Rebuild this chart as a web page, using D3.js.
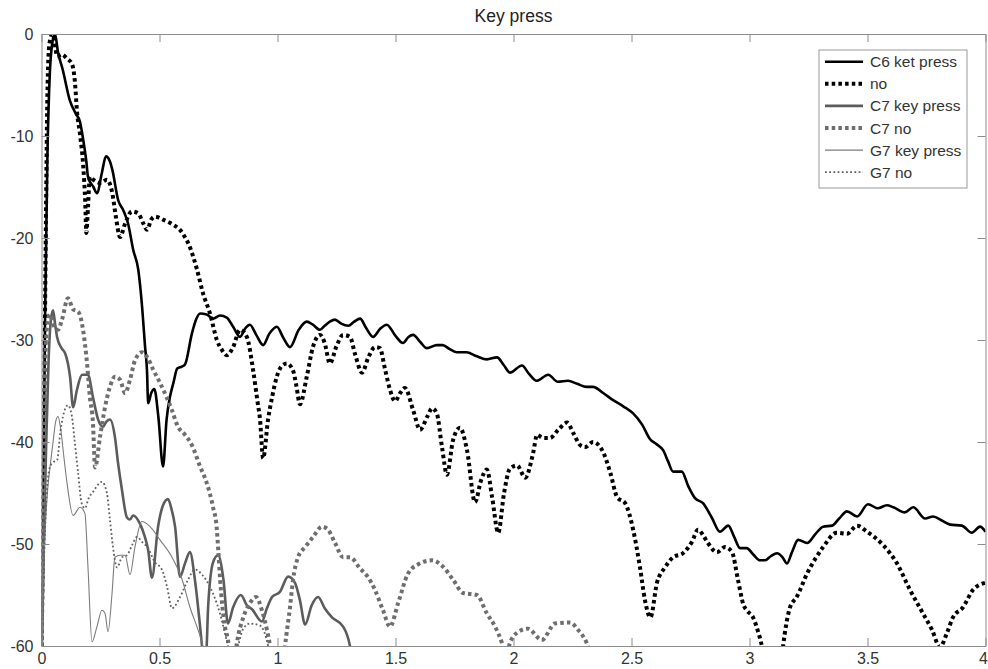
<!DOCTYPE html>
<html>
<head>
<meta charset="utf-8">
<script src="https://cdn.jsdelivr.net/npm/d3@7/dist/d3.min.js"></script>
<style>
  body { margin: 0; background: #fff; }
  svg { font-family: "Liberation Sans", Arial, Helvetica, sans-serif; }
</style>
</head>
<body>
<svg id="chart" width="988" height="669"></svg>
<script>
// ---- data ----
const title = "Key press";
const xTicks = [0, 0.5, 1, 1.5, 2, 2.5, 3, 3.5, 4];
const xTickLabels = ["0", "0.5", "1", "1.5", "2", "2.5", "3", "3.5", "4"];
const yTicks = [-60, -50, -40, -30, -20, -10, 0];
const yTickLabels = ["-60", "-50", "-40", "-30", "-20", "-10", "0"];
const seriesNames = ["C6 ket press", "no", "C7 key press", "C7 no", "G7 key press", "G7 no"];

const c6Press = [[0,-62],[0.008,-45],[0.015,-28],[0.025,-12],[0.035,-4],[0.045,-1],[0.057,0],[0.07,-1.8],[0.09,-3.5],[0.12,-6.5],[0.145,-7.8],[0.163,-8.6],[0.177,-10.4],[0.19,-12.5],[0.197,-14],[0.22,-15],[0.235,-15.6],[0.256,-13.6],[0.273,-12],[0.29,-12.5],[0.3,-13.3],[0.325,-16.3],[0.347,-17.3],[0.367,-18.6],[0.389,-21.2],[0.41,-23.1],[0.425,-26.4],[0.439,-30.7],[0.447,-33],[0.452,-36.2],[0.465,-35.2],[0.478,-34.8],[0.495,-37.5],[0.515,-42.4],[0.53,-37.8],[0.545,-35.5],[0.559,-34.2],[0.575,-32.8],[0.595,-32.6],[0.608,-32.4],[0.637,-29.4],[0.655,-28],[0.672,-27.4],[0.7,-27.5],[0.727,-27.9],[0.756,-27.6],[0.785,-27.8],[0.812,-28.7],[0.841,-29.7],[0.865,-28.8],[0.883,-28.5],[0.91,-29.5],[0.939,-30.5],[0.965,-29.4],[0.997,-28.7],[1.025,-29.8],[1.053,-30.7],[1.09,-29],[1.124,-28.2],[1.15,-28.5],[1.18,-29],[1.2,-28.6],[1.222,-28.2],[1.243,-28],[1.27,-28.4],[1.3,-28.6],[1.325,-28.2],[1.35,-27.9],[1.375,-28.8],[1.405,-29.7],[1.435,-28.9],[1.463,-28.5],[1.5,-29.6],[1.532,-30.3],[1.555,-29.7],[1.575,-29.5],[1.605,-30.2],[1.633,-30.8],[1.675,-30.5],[1.7,-30.5],[1.73,-30.9],[1.76,-31.2],[1.8,-31.2],[1.845,-31.6],[1.887,-31.9],[1.93,-31.7],[1.96,-32.5],[1.985,-33.2],[2.036,-32.5],[2.065,-33.3],[2.098,-34],[2.147,-33.4],[2.188,-34.1],[2.231,-34],[2.27,-34.3],[2.31,-34.6],[2.337,-34.6],[2.38,-35.2],[2.422,-35.9],[2.465,-36.5],[2.507,-37.2],[2.545,-38.3],[2.578,-39.7],[2.605,-40.2],[2.634,-40.8],[2.655,-41.9],[2.676,-42.9],[2.713,-42.9],[2.74,-44.3],[2.769,-45.5],[2.803,-46],[2.84,-47.4],[2.875,-48.8],[2.91,-48.2],[2.935,-49.3],[2.96,-50.4],[2.988,-50.4],[3.015,-51],[3.044,-51.6],[3.066,-51.6],[3.09,-51.2],[3.117,-50.9],[3.14,-51.3],[3.159,-51.9],[3.18,-50.8],[3.206,-49.6],[3.244,-49.9],[3.28,-49],[3.312,-48.3],[3.35,-48.2],[3.38,-47.5],[3.413,-46.8],[3.456,-47.3],[3.502,-46.1],[3.544,-46.5],[3.582,-46.2],[3.61,-46.4],[3.658,-46.9],[3.694,-46.4],[3.744,-47.5],[3.778,-47.3],[3.815,-47.7],[3.85,-48.1],[3.9,-48.2],[3.942,-48.9],[3.977,-48.3],[4,-48.8]];

const c6No = [[0,-62],[0.01,-40],[0.018,-20],[0.026,-4.8],[0.034,-0.9],[0.047,0],[0.06,-1.5],[0.066,-2.2],[0.086,-2],[0.108,-2.4],[0.13,-3],[0.142,-4.8],[0.15,-7.5],[0.163,-9.8],[0.177,-13],[0.185,-16.3],[0.19,-19.5],[0.197,-17],[0.205,-14],[0.22,-14.3],[0.248,-14.6],[0.277,-14.3],[0.3,-15.6],[0.315,-17.9],[0.333,-19.9],[0.354,-18.6],[0.383,-17.4],[0.41,-17.6],[0.432,-18.6],[0.447,-19.2],[0.465,-18.2],[0.481,-17.9],[0.515,-18.2],[0.558,-18.7],[0.587,-19.2],[0.61,-20],[0.629,-20.9],[0.645,-22],[0.659,-23.1],[0.684,-25.4],[0.714,-27.4],[0.743,-30],[0.765,-31],[0.785,-31.5],[0.812,-30.7],[0.841,-29],[0.87,-29.7],[0.897,-33],[0.915,-36],[0.926,-37.8],[0.939,-41.6],[0.96,-37.8],[0.978,-35.5],[0.997,-33.6],[1.02,-32.5],[1.04,-32.3],[1.066,-33],[1.08,-34.5],[1.095,-36.3],[1.124,-33.6],[1.15,-30.7],[1.18,-29.5],[1.2,-30.3],[1.222,-32.3],[1.25,-30.6],[1.278,-29.5],[1.307,-29.7],[1.33,-31.5],[1.358,-33.2],[1.385,-31.7],[1.413,-30.7],[1.434,-30.8],[1.455,-32.8],[1.477,-34.9],[1.498,-36],[1.52,-35.2],[1.54,-34.7],[1.575,-36.9],[1.604,-38.8],[1.635,-37.5],[1.655,-36.7],[1.675,-37.2],[1.697,-40.5],[1.718,-43.2],[1.744,-39.8],[1.773,-38.6],[1.803,-40.8],[1.837,-45.9],[1.862,-43.8],[1.887,-42.7],[1.91,-45.5],[1.935,-48.9],[1.96,-45],[1.985,-42.6],[2.015,-42.3],[2.05,-43.5],[2.083,-41.1],[2.1,-39.3],[2.125,-39.6],[2.155,-39.6],[2.19,-38.8],[2.227,-38.1],[2.255,-39.2],[2.282,-40.3],[2.303,-40.5],[2.337,-40],[2.38,-41],[2.41,-43],[2.439,-45.4],[2.473,-46],[2.507,-48.6],[2.536,-52.3],[2.557,-55.5],[2.58,-57.2],[2.608,-53.8],[2.642,-52.3],[2.676,-51.3],[2.718,-50.9],[2.756,-49.8],[2.782,-48.6],[2.805,-49.2],[2.824,-49.9],[2.862,-50.8],[2.896,-50.3],[2.926,-50.8],[2.951,-53.5],[2.975,-56],[2.988,-56.5],[3.015,-57.2],[3.035,-58.5],[3.053,-60.1],[3.075,-64],[3.1,-67],[3.125,-64],[3.142,-60.1],[3.172,-56.2],[3.2,-55.2],[3.244,-52.9],[3.28,-51.4],[3.312,-50.3],[3.37,-48.9],[3.413,-49],[3.456,-48.2],[3.498,-48.8],[3.566,-50.1],[3.625,-51.9],[3.68,-54.5],[3.735,-56.8],[3.773,-58.4],[3.807,-60.1],[3.837,-58.7],[3.862,-57.2],[3.905,-56.2],[3.947,-54.5],[4,-53.8]];

const c7Press = [[0,-62],[0.01,-50],[0.02,-40],[0.03,-32],[0.04,-28],[0.049,-27.1],[0.058,-28.5],[0.066,-29.7],[0.085,-30.8],[0.1,-31.3],[0.112,-32.3],[0.121,-33.6],[0.134,-36.6],[0.15,-34.9],[0.172,-33.4],[0.197,-33.4],[0.218,-35.6],[0.24,-37.8],[0.261,-38.5],[0.275,-38],[0.29,-37.8],[0.311,-39.5],[0.324,-42],[0.341,-44.7],[0.362,-47.4],[0.375,-47.6],[0.388,-47.2],[0.417,-48],[0.438,-49.3],[0.452,-50.6],[0.468,-53.3],[0.494,-48.3],[0.515,-46.2],[0.536,-45.6],[0.55,-46.5],[0.566,-48.3],[0.587,-53.2],[0.608,-51.9],[0.629,-50.8],[0.65,-53.5],[0.672,-58.1],[0.68,-60],[0.69,-63],[0.7,-60],[0.706,-56.2],[0.727,-51.8],[0.748,-51.1],[0.771,-53.5],[0.79,-57.8],[0.812,-56.2],[0.845,-55],[0.87,-56],[0.892,-56.4],[0.934,-57.6],[0.955,-56.3],[0.977,-55.2],[1.01,-54.7],[1.045,-53.2],[1.074,-53.8],[1.095,-55.5],[1.117,-57.9],[1.145,-56],[1.172,-55.2],[1.2,-56.3],[1.231,-57.2],[1.278,-58.1],[1.307,-60],[1.32,-62]];

const c7No = [[0,-62],[0.005,-50],[0.01,-40],[0.015,-33],[0.022,-29],[0.035,-27.5],[0.05,-28.5],[0.07,-29],[0.087,-28],[0.112,-25.9],[0.134,-27],[0.155,-27.2],[0.176,-29],[0.193,-32.3],[0.205,-35.6],[0.218,-38.1],[0.227,-42.5],[0.248,-39.5],[0.269,-36.6],[0.29,-34.6],[0.311,-33.6],[0.333,-33.9],[0.354,-35.2],[0.375,-33.9],[0.396,-32],[0.426,-31.2],[0.451,-31.8],[0.473,-32.9],[0.502,-34.2],[0.53,-35.6],[0.553,-36.9],[0.578,-38.5],[0.605,-39.2],[0.637,-40.3],[0.672,-42.4],[0.7,-44],[0.727,-46.4],[0.742,-48.3],[0.749,-50.6],[0.757,-53.5],[0.775,-57.8],[0.79,-59.4],[0.81,-63],[0.828,-59.7],[0.855,-57.2],[0.883,-55.8],[0.909,-55.2],[0.934,-56.5],[0.955,-58.4],[0.968,-60],[0.99,-66],[1.015,-64],[1.032,-60],[1.053,-56.2],[1.066,-53.5],[1.087,-51.3],[1.117,-50.3],[1.151,-49.3],[1.188,-48.3],[1.214,-48.6],[1.244,-49.9],[1.278,-51.3],[1.307,-51.3],[1.35,-52.4],[1.385,-53.3],[1.413,-54.5],[1.447,-56.5],[1.477,-58.1],[1.511,-55.8],[1.553,-52.9],[1.595,-52],[1.655,-51.6],[1.7,-52.2],[1.744,-53.5],[1.786,-54.8],[1.845,-55],[1.887,-56.8],[1.922,-58.1],[1.951,-59.7],[1.968,-61],[1.985,-59.7],[2.015,-58.7],[2.061,-58.3],[2.12,-59.4],[2.176,-57.8],[2.24,-57.7],[2.273,-58.4],[2.31,-59.7],[2.33,-61]];

const g7Press = [[0,-62],[0.01,-52],[0.025,-45],[0.036,-42.5],[0.049,-40],[0.06,-38],[0.07,-37.5],[0.08,-38.5],[0.095,-41.5],[0.108,-44],[0.134,-47.2],[0.163,-46.4],[0.184,-47],[0.197,-52.3],[0.214,-59.6],[0.235,-58.1],[0.256,-56.5],[0.269,-56.8],[0.282,-58.6],[0.299,-54.8],[0.311,-51.3],[0.333,-51.1],[0.354,-51.1],[0.375,-53],[0.396,-50.3],[0.425,-47.8],[0.46,-48.3],[0.502,-49.6],[0.553,-51.3],[0.596,-53.5],[0.629,-56.2],[0.663,-58.4],[0.684,-60],[0.7,-62]];

const g7No = [[0,-62],[0.01,-52],[0.02,-46],[0.035,-42.5],[0.049,-42],[0.066,-41.8],[0.08,-39],[0.091,-37.5],[0.112,-36.4],[0.129,-37.5],[0.14,-39.8],[0.155,-43],[0.17,-46],[0.184,-46.5],[0.2,-45.5],[0.218,-44.9],[0.256,-43.9],[0.277,-45],[0.29,-47.6],[0.303,-50.3],[0.32,-52.3],[0.341,-51.3],[0.362,-51.1],[0.384,-50.1],[0.405,-49.3],[0.426,-49.8],[0.451,-50.4],[0.481,-51.8],[0.51,-52.5],[0.532,-54.2],[0.553,-56.3],[0.587,-55.2],[0.621,-53.5],[0.65,-52.5],[0.68,-53],[0.714,-54.2],[0.756,-56.8],[0.79,-60],[0.81,-62],[0.833,-60],[0.855,-58.3],[0.883,-57.8],[0.926,-58],[0.96,-60],[0.975,-62]];

// ---- layout / styles ----
const WIDTH = 988;
const HEIGHT = 669;
const PLOT = { left: 41.5, right: 985.5, top: 34, bottom: 646 };
const AXIS_COLOR = "#8c8c8c";
const TEXT_COLOR = "#333";

const STYLES = [
  { color: "#000", width: 2.6, dash: null },
  { color: "#000", width: 4, dash: "3.5,3.2" },
  { color: "#5c5c5c", width: 2.6, dash: null },
  { color: "#6e6e6e", width: 4, dash: "3.5,3.2" },
  { color: "#7c7c7c", width: 1.1, dash: null },
  { color: "#606060", width: 1.8, dash: "1.8,2.4" }
];
const series = [c6Press, c6No, c7Press, c7No, g7Press, g7No];

const svg = d3.select("#chart").attr("viewBox", `0 0 ${WIDTH} ${HEIGHT}`);

const x = d3.scaleLinear().domain([0, 4]).range([PLOT.left, PLOT.right]);
const y = d3.scaleLinear().domain([-60, 0]).range([PLOT.bottom, PLOT.top]);

svg.append("defs")
  .append("clipPath")
  .attr("id", "plot-clip")
  .append("rect")
  .attr("x", PLOT.left)
  .attr("y", PLOT.top)
  .attr("width", PLOT.right - PLOT.left)
  .attr("height", PLOT.bottom - PLOT.top);

const line = d3.line()
  .x(d => x(d[0]))
  .y(d => y(d[1]))
  .curve(d3.curveMonotoneX);

const lines = svg.append("g").attr("clip-path", "url(#plot-clip)");

series.forEach((data, i) => {
  lines.append("path")
    .datum(data)
    .attr("fill", "none")
    .attr("stroke", STYLES[i].color)
    .attr("stroke-width", STYLES[i].width)
    .attr("stroke-dasharray", STYLES[i].dash)
    .attr("stroke-linejoin", "round")
    .attr("d", line);
});

// axes, MATLAB style: box with inward ticks
const fmtX = (d, i) => xTickLabels[i];
const fmtY = (d, i) => yTickLabels[i];

const styleAxis = g => {
  g.select(".domain").attr("stroke", AXIS_COLOR);
  g.selectAll(".tick line").attr("stroke", AXIS_COLOR);
  g.selectAll(".tick text")
    .attr("fill", TEXT_COLOR)
    .attr("font-size", 16)
    .attr("font-family", "'Liberation Sans', Arial, sans-serif");
};

const xAxis = svg.append("g")
  .attr("transform", `translate(0, ${PLOT.bottom})`)
  .call(d3.axisBottom(x).tickValues(xTicks).tickFormat(fmtX).tickSizeInner(-8).tickSizeOuter(0).tickPadding(7))
  .call(styleAxis);

// the last label sits against the window edge
xAxis.selectAll(".tick text")
  .filter(d => d === xTicks[xTicks.length - 1])
  .attr("text-anchor", "end")
  .attr("dx", 2);

svg.append("g")
  .attr("transform", `translate(0, ${PLOT.top})`)
  .call(d3.axisTop(x).tickValues(xTicks).tickFormat("").tickSizeInner(-8).tickSizeOuter(0))
  .call(styleAxis);

svg.append("g")
  .attr("transform", `translate(${PLOT.left}, 0)`)
  .call(d3.axisLeft(y).tickValues(yTicks).tickFormat(fmtY).tickSizeInner(-8).tickSizeOuter(0).tickPadding(8))
  .call(styleAxis);

svg.append("g")
  .attr("transform", `translate(${PLOT.right}, 0)`)
  .call(d3.axisRight(y).tickValues(yTicks).tickFormat("").tickSizeInner(-8).tickSizeOuter(0))
  .call(styleAxis);

svg.append("text")
  .attr("x", (PLOT.left + PLOT.right) / 2)
  .attr("y", 22)
  .attr("text-anchor", "middle")
  .attr("font-size", 17.5)
  .attr("fill", "#222")
  .text(title);

// legend
const legend = svg.append("g").attr("transform", "translate(819, 50)");

legend.append("rect")
  .attr("width", 148)
  .attr("height", 138)
  .attr("fill", "#fff")
  .attr("stroke", "#999");

seriesNames.forEach((name, i) => {
  const ly = 11.7 + i * 22.1;
  legend.append("line")
    .attr("x1", 6)
    .attr("x2", 44)
    .attr("y1", ly)
    .attr("y2", ly)
    .attr("stroke", STYLES[i].color)
    .attr("stroke-width", STYLES[i].width)
    .attr("stroke-dasharray", STYLES[i].dash);
  legend.append("text")
    .attr("x", 51)
    .attr("y", ly)
    .attr("dy", "0.36em")
    .attr("font-size", 15.5)
    .attr("fill", TEXT_COLOR)
    .text(name);
});
</script>
</body>
</html>
